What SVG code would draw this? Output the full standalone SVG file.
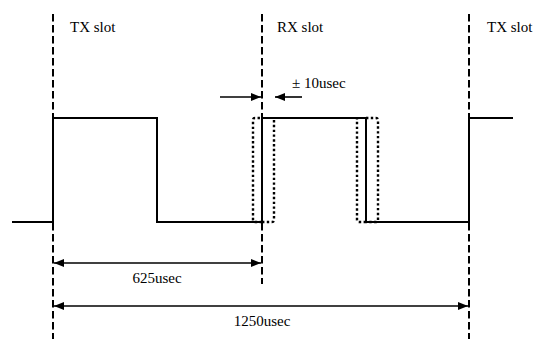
<svg xmlns="http://www.w3.org/2000/svg" width="535" height="339" viewBox="0 0 535 339">
<style>
.sig{fill:none;stroke:#000;stroke-width:2}
.dot{fill:none;stroke:#000;stroke-width:2.4;stroke-dasharray:2.4 2.4}
.dash{fill:none;stroke:#000;stroke-width:2;stroke-dasharray:7.5 3.5}
.arr{fill:none;stroke:#000;stroke-width:1.6}
.t{font-family:"Liberation Serif","Times New Roman",serif;font-size:15px;fill:#000}
</style>
<defs>
<marker id="ah" viewBox="0 0 10 8" refX="10" refY="4" markerWidth="10" markerHeight="8" markerUnits="userSpaceOnUse" orient="auto-start-reverse">
<path d="M0,0 L10,4 L0,8 Z" fill="#000"/>
</marker>
</defs>
<rect width="535" height="339" fill="#fff"/>
<g id="slot-lines">
<line class="dash" x1="53" y1="14" x2="53" y2="339"/>
<line class="dash" x1="262" y1="14" x2="262" y2="284"/>
<line class="dash" x1="469" y1="14" x2="469" y2="339"/>
</g>
<g id="signal">
<path class="sig" d="M12,222 H53 V118 H157 V222 H262 V118 H366 V222 H469 V118 H513"/>
</g>
<g id="jitter">
<path class="dot" d="M262,222 H255 Q253,222 253,220 V120 Q253,118 255,118 H262"/>
<path class="dot" d="M262,222 H272 Q274,222 274,220 V118"/>
<path class="dot" d="M366,222 H359 Q357,222 357,220 V118"/>
<path class="dot" d="M366,118 H376 Q378,118 378,120 V220 Q378,222 376,222 H366"/>
</g>
<g id="connectors">
<line class="arr" x1="220" y1="97" x2="261" y2="97" marker-end="url(#ah)"/>
<line class="arr" x1="302" y1="97" x2="275" y2="97" marker-end="url(#ah)"/>
<line class="arr" x1="54" y1="263" x2="261" y2="263" marker-start="url(#ah)" marker-end="url(#ah)"/>
<line class="arr" x1="54" y1="306" x2="468" y2="306" marker-start="url(#ah)" marker-end="url(#ah)"/>
</g>
<g id="labels">
<text class="t" x="70" y="32">TX slot</text>
<text class="t" x="277" y="32">RX slot</text>
<text class="t" x="487" y="32">TX slot</text>
<text class="t" x="292" y="88">± 10usec</text>
<text class="t" x="157" y="283" text-anchor="middle">625usec</text>
<text class="t" x="262" y="326" text-anchor="middle">1250usec</text>
</g>
</svg>
